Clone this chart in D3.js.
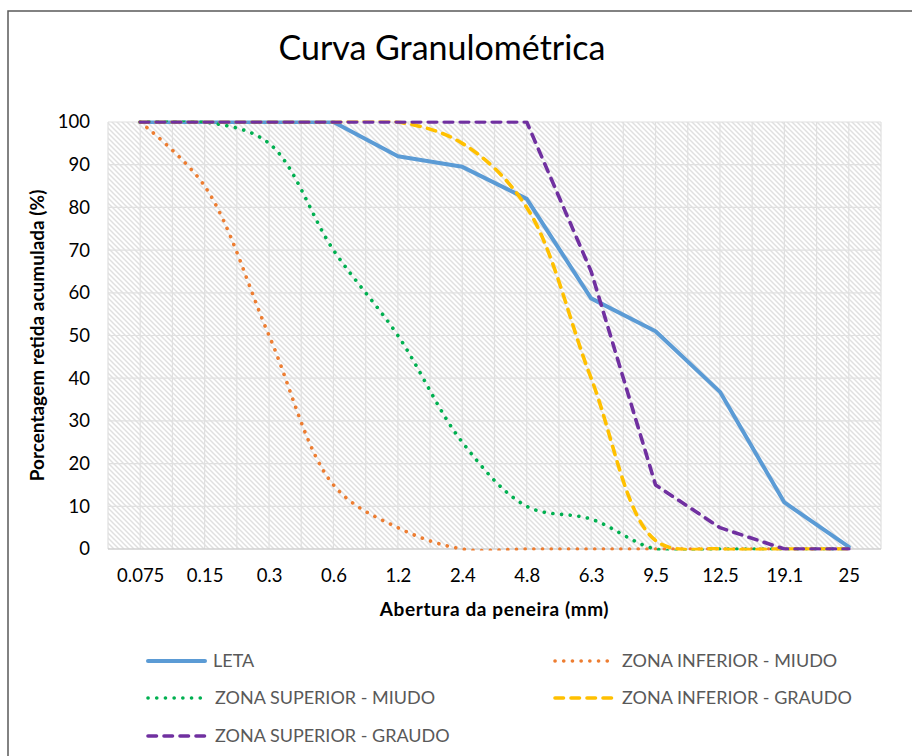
<!DOCTYPE html>
<html>
<head>
<meta charset="utf-8">
<script src="https://cdn.jsdelivr.net/npm/d3@7"></script>
<style>
  body { margin: 0; background: #fff; }
  text { font-family: Lato, "Open Sans", sans-serif; }
</style>
</head>
<body>
<div id="chart"></div>
<script>
// sieve openings (mm), categorical axis
const sieves = ['0.075', '0.15', '0.3', '0.6', '1.2', '2.4', '4.8', '6.3', '9.5', '12.5', '19.1', '25']
const yTicks = [0, 10, 20, 30, 40, 50, 60, 70, 80, 90, 100]

const leta = [100, 100, 100, 100, 92, 89.5, 82, 58.7, 51, 36.8, 10.9, 0.5]
const infMiudo = [100, 85, 50, 15, 5, 0, 0, 0, 0, 0, 0, 0]
const supMiudo = [100, 100, 95, 70, 50, 25, 10, 7, 0, 0, 0, 0]
const infGraudo = [100, 100, 100, 100, 100, 95, 80, 40, 2, 0, 0, 0]
const supGraudo = [100, 100, 100, 100, 100, 100, 100, 65, 15, 5, 0, 0]

// excel-like smoothing
const smooth = d3.curveCatmullRom.alpha(0.5)

const series = [
  {name: 'LETA', values: leta, color: '#5B9BD5', dash: null, w: 4, curve: d3.curveLinear},
  {name: 'ZONA INFERIOR - MIUDO', values: infMiudo, color: '#ED7D31', dash: '0.1 8.6', w: 3.6, curve: smooth},
  {name: 'ZONA SUPERIOR - MIUDO', values: supMiudo, color: '#00B050', dash: '0.1 8.6', w: 3.6, curve: smooth},
  {name: 'ZONA INFERIOR - GRAUDO', values: infGraudo, color: '#FFC000', dash: '8.5 7.5', w: 3.6, curve: smooth},
  {name: 'ZONA SUPERIOR - GRAUDO', values: supGraudo, color: '#7030A0', dash: '8.5 7.5', w: 3.6, curve: d3.curveLinear}
]

const width = 912, height = 756
const plot = {left: 108, right: 881, top: 122, bottom: 549}

const svg = d3.select('#chart').append('svg')
  .attr('width', width)
  .attr('height', height)

// hatch fill of the plot area
const defs = svg.append('defs')
const pat = defs.append('pattern')
  .attr('id', 'hatch')
  .attr('patternUnits', 'userSpaceOnUse')
  .attr('width', 5).attr('height', 5)
pat.append('path')
  .attr('d', 'M-1,-1 L6,6 M-1,4 L1,6 M4,-1 L6,1')
  .attr('stroke', '#e0e0e0')
  .attr('stroke-width', 1.5)

defs.append('clipPath')
  .attr('id', 'clip')
  .append('rect')
  .attr('x', plot.left - 3).attr('y', plot.top - 1.5)
  .attr('width', plot.right - plot.left + 6)
  .attr('height', plot.bottom - plot.top + 3)

svg.append('rect')
  .attr('width', width).attr('height', height)
  .attr('fill', '#fff')

// outer chart frame
svg.append('rect')
  .attr('x', 8).attr('y', 11)
  .attr('width', width + 10).attr('height', height + 10)
  .attr('fill', 'none')
  .attr('stroke', '#5a5a5a')
  .attr('stroke-width', 1.5)

const x = d3.scalePoint()
  .domain(sieves)
  .range([plot.left, plot.right])
  .padding(0.5)
const xb = d3.scaleBand()
  .domain(sieves)
  .range([plot.left, plot.right])
const y = d3.scaleLinear()
  .domain([0, 100])
  .range([plot.bottom, plot.top])

svg.append('rect')
  .attr('x', plot.left).attr('y', plot.top)
  .attr('width', plot.right - plot.left).attr('height', plot.bottom - plot.top)
  .attr('fill', 'url(#hatch)')

// vertical grid at category centres and boundaries
const vLines = sieves.map(s => x(s)).concat(sieves.map(s => xb(s)), [plot.right])
svg.append('g').selectAll('line')
  .data(vLines)
  .enter().append('line')
  .attr('x1', d => d).attr('x2', d => d)
  .attr('y1', plot.top).attr('y2', plot.bottom)
  .attr('stroke', '#e0e0e0')
  .attr('stroke-width', 1.2)

svg.append('g').selectAll('line')
  .data(yTicks)
  .enter().append('line')
  .attr('x1', plot.left).attr('x2', plot.right)
  .attr('y1', d => y(d)).attr('y2', d => y(d))
  .attr('stroke', d => d === 0 ? '#d0d0d0' : '#e0e0e0')
  .attr('stroke-width', d => d === 0 ? 1.5 : 1.2)

// axes
const yAxis = svg.append('g')
  .attr('transform', `translate(${plot.left},0)`)
  .call(d3.axisLeft(y).tickValues(yTicks).tickSize(0).tickPadding(18))
yAxis.select('.domain').remove()
yAxis.selectAll('text')
  .attr('font-size', 18.5)
  .attr('font-family', 'Lato, sans-serif')
  .attr('fill', '#000')

const xAxis = svg.append('g')
  .attr('transform', `translate(0,${plot.bottom})`)
  .call(d3.axisBottom(x).tickSize(0).tickPadding(20))
xAxis.select('.domain').remove()
xAxis.selectAll('text')
  .attr('font-size', 18.5)
  .attr('font-family', 'Lato, sans-serif')
  .attr('fill', '#000')

// series
const line = d3.line()
  .x((d, i) => x(sieves[i]))
  .y(d => y(d))

svg.append('g')
  .attr('clip-path', 'url(#clip)')
  .selectAll('path')
  .data(series)
  .enter().append('path')
  .attr('d', d => line.curve(d.curve)(d.values))
  .attr('fill', 'none')
  .attr('stroke', d => d.color)
  .attr('stroke-width', d => d.w)
  .attr('stroke-linecap', 'round')
  .attr('stroke-linejoin', 'round')
  .attr('stroke-dasharray', d => d.dash)

// titles
svg.append('text')
  .attr('x', 442).attr('y', 60)
  .attr('text-anchor', 'middle')
  .attr('font-size', 34)
  .attr('fill', '#000')
  .text('Curva Granulométrica')

svg.append('text')
  .attr('x', (plot.left + plot.right) / 2).attr('y', 616)
  .attr('text-anchor', 'middle')
  .attr('font-size', 19)
  .attr('letter-spacing', 0.6)
  .attr('font-weight', 'bold')
  .attr('fill', '#000')
  .text('Abertura da peneira (mm)')

svg.append('text')
  .attr('transform', `translate(44,${(plot.top + plot.bottom) / 2}) rotate(-90)`)
  .attr('text-anchor', 'middle')
  .attr('font-size', 19)
  .attr('font-weight', 'bold')
  .attr('fill', '#000')
  .text('Porcentagem retida acumulada (%)')

// legend
const legendPos = [
  {lx: 148, tx: 213, ly: 661},
  {lx: 555, tx: 622, ly: 661},
  {lx: 148, tx: 215, ly: 698},
  {lx: 555, tx: 622, ly: 698},
  {lx: 148, tx: 215, ly: 736}
]
const legend = svg.append('g').selectAll('g')
  .data(series)
  .enter().append('g')
  .attr('transform', (d, i) => `translate(0,${legendPos[i].ly})`)
legend.append('line')
  .attr('x1', (d, i) => legendPos[i].lx)
  .attr('x2', (d, i) => legendPos[i].lx + 57)
  .attr('stroke', d => d.color)
  .attr('stroke-width', d => d.w)
  .attr('stroke-linecap', 'round')
  .attr('stroke-dasharray', d => d.dash)
legend.append('text')
  .attr('x', (d, i) => legendPos[i].tx)
  .attr('dy', '0.35em')
  .attr('font-size', 18)
  .attr('fill', '#595959')
  .text(d => d.name)
</script>
</body>
</html>
